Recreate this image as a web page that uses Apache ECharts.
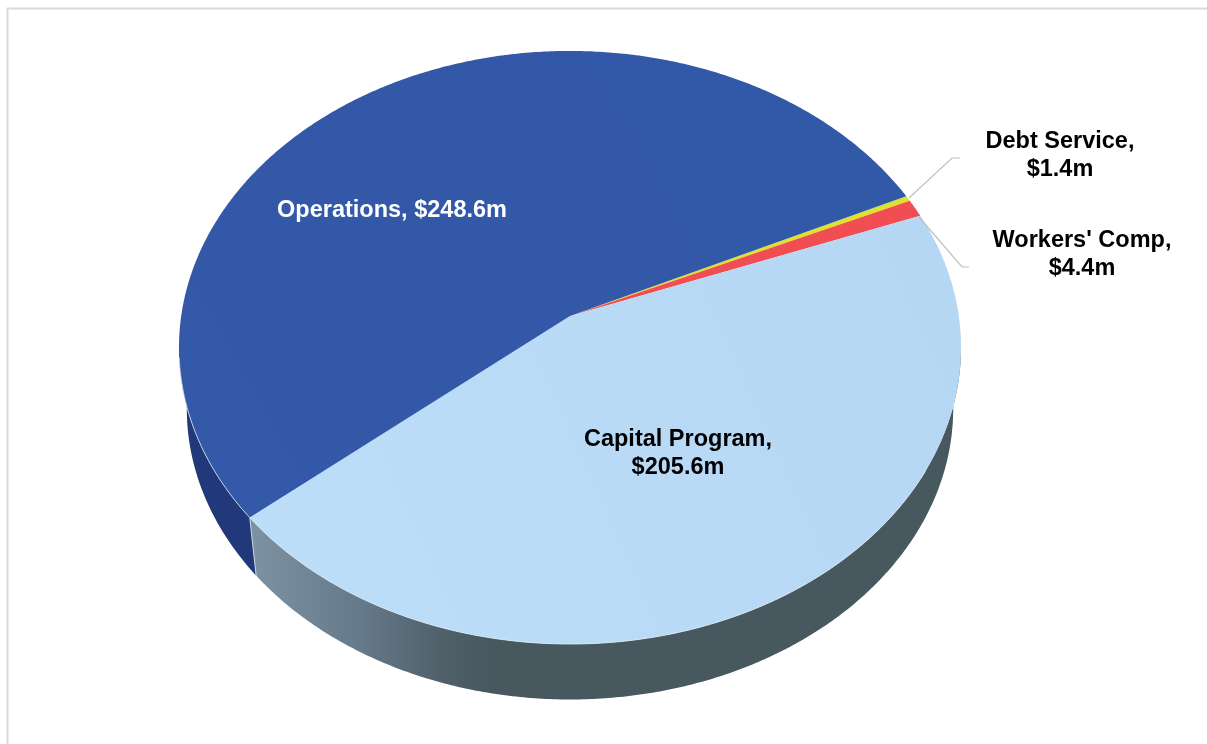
<!DOCTYPE html>
<html>
<head>
<meta charset="utf-8">
<title>Budget by fund</title>
<style>html,body{margin:0;padding:0;background:#fff}#chart{width:1207px;height:744px}</style>
<script src="https://cdn.jsdelivr.net/npm/echarts@6/dist/echarts.min.js"></script>
</head>
<body>
<div id="chart"></div>
<script>
// Spending categories in $ millions, listed clockwise from the Debt Service slice.
const categories = ["Debt Service", "Workers' Comp", "Capital Program", "Operations"];
const amounts = [1.4, 4.4, 205.6, 248.6];

const topColors = ['#DDE32A', '#F04E52', null, null];
const wallColors = ['#8A8F2A', '#A0383C', null, '#21397A'];
const labelColors = ['#000', '#000', '#000', '#fff'];

// Perspective disc: a unit circle tilted away from the viewer.
const disc = { cx: 570, cy: 316, kx: 388.8, ky: 293.2, p: 0.1062, drop: 62, shrink: 0.98 };
const startDeg = -25.3;
const total = amounts.reduce((a, b) => a + b, 0);

function project(deg, lower) {
  const r = deg * Math.PI / 180;
  const x = Math.cos(r), y = Math.sin(r), w = 1 - disc.p * y;
  const s = lower ? disc.shrink : 1;
  return [
    disc.cx + s * disc.kx * x / w,
    disc.cy + (lower ? disc.drop : 0) + s * disc.ky * y / w
  ];
}
function arc(a0, a1, lower) {
  const n = Math.max(2, Math.ceil(Math.abs(a1 - a0) * 2));
  const pts = [];
  for (let i = 0; i <= n; i++) pts.push(project(a0 + (a1 - a0) * i / n, lower));
  return pts;
}
function sliceRange(idx) {
  let sum = 0;
  for (let i = 0; i < idx; i++) sum += amounts[i];
  const a0 = startDeg + sum / total * 360;
  return [a0, a0 + amounts[idx] / total * 360];
}

const topFill = i => {
  if (i === 2) return new echarts.graphic.LinearGradient(250, 620, 960, 300,
    [{ offset: 0, color: '#BDDEF9' }, { offset: 1, color: '#B6D7F3' }], true);
  if (i === 3) return new echarts.graphic.LinearGradient(180, 500, 900, 100,
    [{ offset: 0, color: '#3558A8' }, { offset: 1, color: '#3258A8' }], true);
  return topColors[i];
};
const wallFill = i => {
  if (i === 2) return new echarts.graphic.LinearGradient(255, 0, 490, 0,
    [{ offset: 0, color: '#7C91A1' }, { offset: 0.45, color: '#64798A' }, { offset: 0.8, color: '#4F6069' }, { offset: 1, color: '#48585F' }], true);
  return wallColors[i];
};

function renderWall(params, api) {
  const i = api.value(0);
  const [a0, a1] = sliceRange(i);
  // Only the near half of the rim shows below the top face.
  const from = Math.max(a0, 6), to = Math.min(a1, 174);
  if (to <= from) return null;
  const upper = arc(from, to, false);
  const lower = arc(to, from, true);
  return {
    type: 'group',
    children: [
      { type: 'polygon', shape: { points: upper.concat(lower) }, style: { fill: wallFill(i) } },
      { type: 'polyline', shape: { points: [project(from, false), project(from, true)] },
        style: { stroke: from > 100 ? '#C9D6E2' : 'transparent', lineWidth: 1, fill: null } }
    ]
  };
}

function renderTop(params, api) {
  const i = api.value(0);
  const [a0, a1] = sliceRange(i);
  const face = [[disc.cx, disc.cy]].concat(arc(a0, a1, false));
  const from = Math.max(a0, 30), to = Math.min(a1, 172);
  const children = [{ type: 'polygon', shape: { points: face }, style: { fill: topFill(i) } }];
  if (to > from) {
    children.push({ type: 'polyline', shape: { points: arc(from, to, false) },
      style: { stroke: '#DCE8F3', lineWidth: 1, fill: null, opacity: 0.8 } });
  }
  return { type: 'group', children };
}

// Text anchors and leader elbows for each label, in chart pixels.
const labelBoxes = [
  { x: 1060, y: 155.5, leader: [[909, 198], [952, 158], [960, 158]] },
  { x: 1082, y: 255, leader: [[919, 217], [962, 267], [969, 267]] },
  { x: 678, y: 453.5 },
  { x: 392, y: 211, oneLine: true }
];

function renderLabel(params, api) {
  const i = api.value(0);
  const box = labelBoxes[i];
  const amount = '$' + amounts[i].toFixed(1) + 'm';
  const text = categories[i] + ',' + (box.oneLine ? ' ' : '\n') + amount;
  const children = [{
    type: 'text',
    style: {
      x: box.x, y: box.y, text, fill: labelColors[i],
      font: 'bold 23.5px "Liberation Sans", Arial, sans-serif',
      align: 'center', verticalAlign: 'middle', lineHeight: 28
    }
  }];
  if (box.leader) {
    children.push({ type: 'polyline', shape: { points: box.leader },
      style: { stroke: '#BFBFBF', lineWidth: 1.2, fill: null } });
  }
  return { type: 'group', children };
}

const sliceData = categories.map((name, i) => ({ name, value: [i, amounts[i]] }));
const layer = (name, z, renderItem) => ({
  type: 'custom', name, coordinateSystem: 'none', z, renderItem,
  data: sliceData, silent: true, animation: false, clip: false
});

const chart = echarts.init(document.getElementById('chart'), null, { renderer: 'canvas' });
chart.setOption({
  backgroundColor: '#ffffff',
  animation: false,
  graphic: [{
    type: 'rect', z: 0, silent: true,
    shape: { x: 7.5, y: 8.5, width: 1300, height: 900 },
    style: { fill: 'none', stroke: '#D9D9D9', lineWidth: 2 }
  }],
  series: [
    layer('Rim', 1, renderWall),
    layer('Slices', 2, renderTop),
    layer('Labels', 3, renderLabel)
  ]
});
</script>
</body>
</html>
